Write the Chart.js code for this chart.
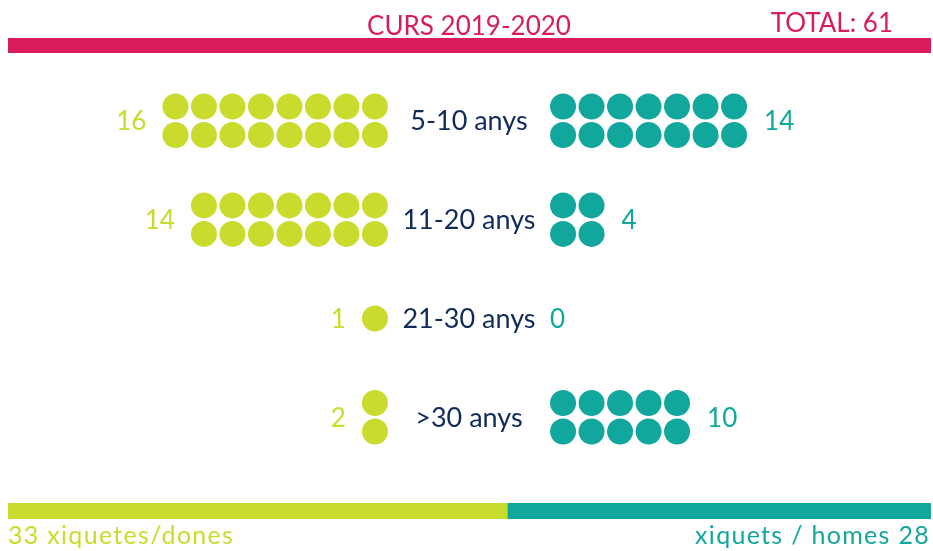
<!DOCTYPE html>
<html>
<head>
<meta charset="utf-8">
<script src="https://cdn.jsdelivr.net/npm/chart.js@4.4.1/dist/chart.umd.min.js"></script>
<style>
    body { margin: 0; background: #fff; }
    #quadro { position: relative; width: 933px; height: 551px; }
    #graficoPontos { position: absolute; left: 0; top: 0; }
    #graficoTotal { position: absolute; left: 8px; top: 503px; }
</style>
</head>
<body>
<div id="quadro">
    <canvas id="graficoPontos" width="933" height="551"></canvas>
    <canvas id="graficoTotal" width="923" height="16"></canvas>
</div>
<script>
// dados
var faixas = ['5-10 anys', '11-20 anys', '21-30 anys', '>30 anys'];
var dones = [16, 14, 1, 2];
var homes = [14, 4, 0, 10];
var titulo = 'CURS 2019-2020';
var rotuloDones = 'xiquetes/dones';
var rotuloHomes = 'xiquets / homes';

// cores e medidas
var verde = 'rgb(201, 220, 46)';
var turquesa = 'rgb(18, 167, 156)';
var rosa = 'rgb(216, 28, 90)';
var azul = 'rgb(16, 43, 90)';
var fonte = 'Lato, "Open Sans", sans-serif';

var ESPACO = 28.5;      // px por unidade (distancia entre bolinhas)
var CENTRO_X = 469;     // px do centro
var TOPO = 120.8;       // px do centro da primeira faixa
var MEIO = 3.3;         // meia distancia entre os dois lados, em unidades
var PASSO_LINHA = 3.468; // distancia entre faixas, em unidades
var RAIO = 13;

function soma(lista) {
    var total = 0;
    for (var i = 0; i < lista.length; i++) {
        total += lista[i];
    }
    return total;
}

var totalDones = soma(dones);
var totalHomes = soma(homes);

function montarPontos(qtds, lado) {
    var pontos = [];
    for (var i = 0; i < qtds.length; i++) {
        var n = qtds[i];
        for (var k = 0; k < n; k++) {
            var col = Math.floor(k / 2);
            var dy = 0;
            if (n > 1) {
                dy = (k % 2 == 0) ? -0.5 : 0.5;
            }
            pontos.push({ x: lado * (MEIO + col), y: i * PASSO_LINHA + dy });
        }
    }
    return pontos;
}

const textos = {
    id: 'textos',
    beforeDraw(chart) {
        const ctx = chart.ctx;
        ctx.save();
        // faixa rosa do topo
        ctx.fillStyle = rosa;
        ctx.fillRect(8, 38, 923, 15);
        ctx.font = '26px ' + fonte;
        ctx.textBaseline = 'alphabetic';
        ctx.textAlign = 'center';
        ctx.fillText(titulo, CENTRO_X, 35);
        ctx.textAlign = 'right';
        ctx.fillText('TOTAL: ' + (totalDones + totalHomes), 893, 32);
        // rodape
        ctx.font = '25px ' + fonte;
        ctx.letterSpacing = '1.3px';
        ctx.textAlign = 'left';
        ctx.fillStyle = verde;
        ctx.fillText(totalDones + ' ' + rotuloDones, 8, 544);
        ctx.textAlign = 'right';
        ctx.fillStyle = turquesa;
        ctx.fillText(rotuloHomes + ' ' + totalHomes, 930, 544);
        ctx.letterSpacing = '0px';
        ctx.restore();
    },
    afterDatasetsDraw(chart) {
        const ctx = chart.ctx;
        const x = chart.scales.x;
        const y = chart.scales.y;
        ctx.save();
        ctx.textBaseline = 'alphabetic';
        for (var i = 0; i < faixas.length; i++) {
            var yPx = y.getPixelForValue(i * PASSO_LINHA) + 9.5;

            ctx.font = '27px ' + fonte;
            ctx.fillStyle = azul;
            ctx.textAlign = 'center';
            ctx.fillText(faixas[i], x.getPixelForValue(0), yPx);

            ctx.font = '26px ' + fonte;
            var colsD = Math.ceil(dones[i] / 2);
            var xD = colsD > 0 ? x.getPixelForValue(-(MEIO + colsD - 1)) - RAIO - 16 : x.getPixelForValue(-MEIO) + RAIO;
            ctx.fillStyle = verde;
            ctx.textAlign = 'right';
            ctx.fillText(dones[i], xD, yPx);

            var colsH = Math.ceil(homes[i] / 2);
            var xH = colsH > 0 ? x.getPixelForValue(MEIO + colsH - 1) + RAIO + 17 : x.getPixelForValue(MEIO) - RAIO;
            ctx.fillStyle = turquesa;
            ctx.textAlign = 'left';
            ctx.fillText(homes[i], xH, yPx);
        }
        ctx.restore();
    }
};

const dadosPontos = {
    datasets: [
        {
            label: 'dones',
            data: montarPontos(dones, -1),
            backgroundColor: verde,
            borderWidth: 0,
            pointRadius: RAIO,
            pointHoverRadius: RAIO
        },
        {
            label: 'homes',
            data: montarPontos(homes, 1),
            backgroundColor: turquesa,
            borderWidth: 0,
            pointRadius: RAIO,
            pointHoverRadius: RAIO
        }
    ]
};

const configPontos = {
    type: 'scatter',
    data: dadosPontos,
    options: {
        responsive: false,
        animation: false,
        layout: { padding: 0, autoPadding: false },
        plugins: {
            legend: { display: false },
            tooltip: { enabled: false }
        },
        scales: {
            x: {
                type: 'linear',
                display: false,
                min: -CENTRO_X / ESPACO,
                max: (933 - CENTRO_X) / ESPACO
            },
            y: {
                type: 'linear',
                display: false,
                reverse: true,
                min: -TOPO / ESPACO,
                max: (551 - TOPO) / ESPACO
            }
        }
    },
    plugins: [textos]
};

const graficoPontos = new Chart(document.getElementById('graficoPontos'), configPontos);

// barra do total embaixo
const configTotal = {
    type: 'bar',
    data: {
        labels: [''],
        datasets: [
            { label: rotuloDones, data: [totalDones], backgroundColor: verde, borderWidth: 0, barPercentage: 1, categoryPercentage: 1 },
            { label: rotuloHomes, data: [totalHomes], backgroundColor: turquesa, borderWidth: 0, barPercentage: 1, categoryPercentage: 1 }
        ]
    },
    options: {
        indexAxis: 'y',
        responsive: false,
        animation: false,
        layout: { padding: 0, autoPadding: false },
        plugins: {
            legend: { display: false },
            tooltip: { enabled: false }
        },
        scales: {
            x: { stacked: true, display: false, min: 0, max: totalDones + totalHomes },
            y: { stacked: true, display: false }
        }
    }
};

const graficoTotal = new Chart(document.getElementById('graficoTotal'), configTotal);
</script>
</body>
</html>
